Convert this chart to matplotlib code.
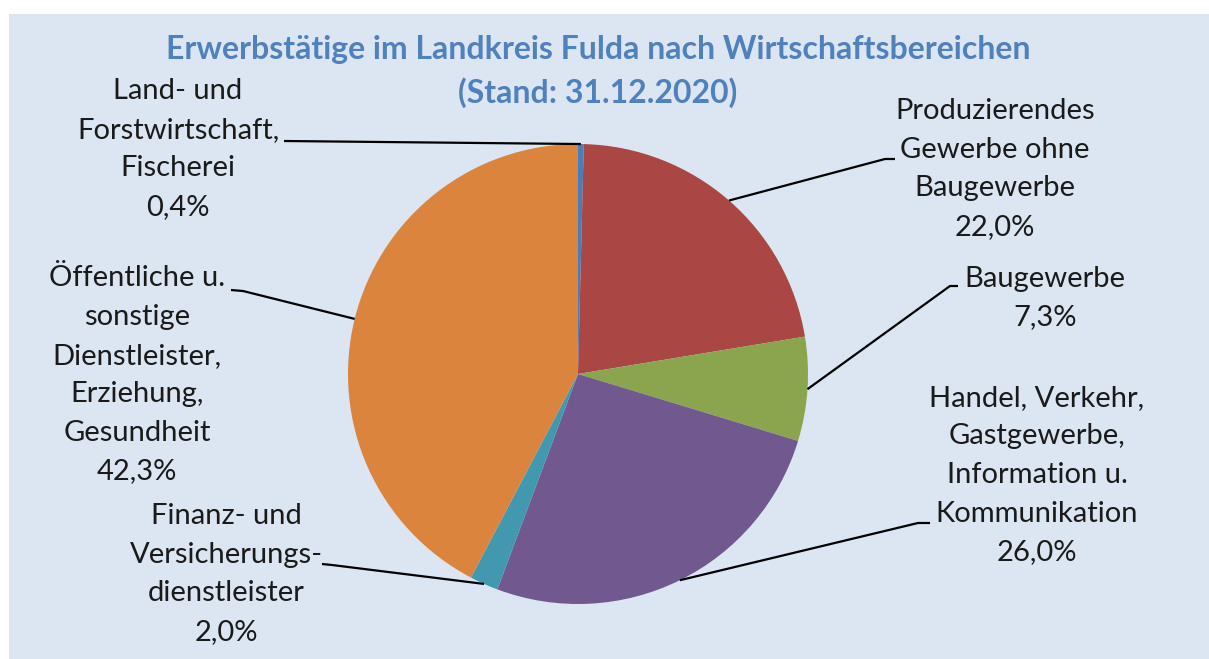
import matplotlib
matplotlib.use('Agg')
import matplotlib.pyplot as plt
import numpy as np
from matplotlib.patches import Rectangle

plt.rcParams['font.family'] = ['Lato', 'DejaVu Sans']

# Data
sectors = ['Land- und\nForstwirtschaft,\nFischerei',
           'Produzierendes\nGewerbe ohne\nBaugewerbe',
           'Baugewerbe',
           'Handel, Verkehr,\nGastgewerbe,\nInformation u.\nKommunikation',
           'Finanz- und\nVersicherungs-\ndienstleister',
           'Öffentliche u.\nsonstige\nDienstleister,\nErziehung,\nGesundheit']
shares = [0.4, 22.0, 7.3, 26.0, 2.0, 42.3]
colors = ['#4A7EBB', '#AA4644', '#8BA54F', '#71588F', '#4198AF', '#DB843D']

W, H = 1209, 659

def py(y):
    # pixel row (top-down) -> data y
    return H - y

# label layout: text centre, then leader start points (pixel coords)
label_xy = [(178, 149), (995, 169), (1045, 298), (1037, 475), (226, 574), (137, 375)]
leaders = [[(284, 141)],
           [(895, 159), (885, 159)],
           [(958, 286), (950, 286)],
           [(930, 523), (918, 523)],
           [(322, 564), (332, 565)],
           [(231, 290), (243, 291)]]

fig = plt.figure(figsize=(W / 100, H / 100), dpi=100, facecolor='white')
ax = fig.add_axes([0, 0, 1, 1])
ax.add_patch(Rectangle((9, 0), W - 9, H - 14, facecolor='#DCE6F2', edgecolor='none', zorder=0))

cx, cy, r = 578, 374, 230
wedges, _ = ax.pie(shares, colors=colors, startangle=90, counterclock=False,
                   center=(cx, py(cy)), radius=r,
                   wedgeprops=dict(edgecolor='none'))
for w in wedges:
    w.set_zorder(2)

ax.set_xlim(0, W)
ax.set_ylim(0, H)
ax.set_aspect('equal', adjustable='box')
ax.axis('off')

for w, lab, v, (tx, ty), pts in zip(wedges, sectors, shares, label_xy, leaders):
    mid = np.deg2rad((w.theta1 + w.theta2) / 2)
    ex, ey = cx + r * np.cos(mid), py(cy) + r * np.sin(mid)
    xs = [p[0] for p in pts] + [ex]
    ys = [py(p[1]) for p in pts] + [ey]
    ax.plot(xs, ys, color='black', lw=1.6, zorder=3, solid_capstyle='butt')
    txt = lab + '\n' + f'{v:.1f}'.replace('.', ',') + '%'
    ax.text(tx, py(ty), txt, ha='center', va='center', fontsize=21,
            linespacing=1.6, color='#1A1A1A', zorder=4)

ax.text(598, py(50), 'Erwerbstätige im Landkreis Fulda nach Wirtschaftsbereichen',
        ha='center', va='center', fontsize=23, fontweight='bold', color='#4F81BD')
ax.text(598, py(93), '(Stand: 31.12.2020)',
        ha='center', va='center', fontsize=23, fontweight='bold', color='#4F81BD')

fig.savefig('out.png', dpi=100, facecolor='white')
